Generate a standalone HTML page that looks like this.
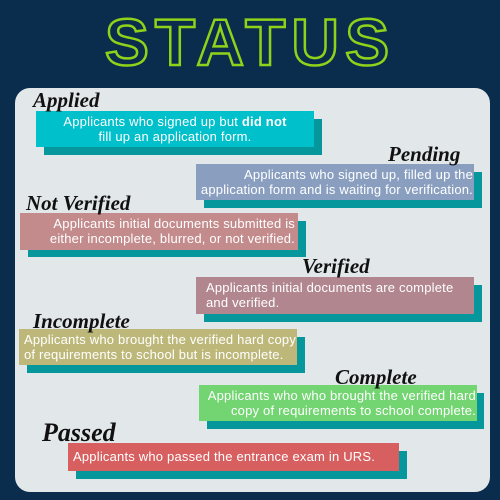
<!DOCTYPE html>
<html><head><style>
body{margin:0;width:500px;height:500px;background:#0b2d4d;position:relative;overflow:hidden;font-family:"Liberation Sans",sans-serif}
.t{position:absolute;left:0;width:500px;top:4px;text-align:center;font:900 66px "Liberation Sans",sans-serif;color:transparent;-webkit-text-stroke:2.5px #8fd21a;letter-spacing:6px}
.panel{position:absolute;left:15px;top:88px;width:475px;height:404px;background:#e2e7ea;border-radius:15px}
.s{position:absolute;background:#05979b}
.b{position:absolute;color:#fff;font-size:13px;letter-spacing:0.2px;line-height:15px;box-sizing:border-box;padding-top:3px;white-space:nowrap}
.l{position:absolute;font:italic bold 21px "Liberation Serif",serif;color:#111;white-space:nowrap}
</style></head><body>
<div class="t">STATUS</div>
<div class="panel"></div>

<div class="s" style="left:44px;top:119px;width:278px;height:36px"></div>
<div class="b" style="left:36px;top:111px;width:278px;height:36px;background:#00c0cc;text-align:center">Applicants who signed up but <b>did not</b><br>fill up an application form.</div>
<div class="l" style="left:33px;top:88px">Applied</div>

<div class="s" style="left:204px;top:172px;width:278px;height:36px"></div>
<div class="b" style="left:196px;top:164px;width:278px;height:36px;background:#8a9fc0;text-align:right;padding-right:1px">Applicants who signed up, filled up the<br>application form and is waiting for verification.</div>
<div class="l" style="left:388px;top:142px">Pending</div>

<div class="s" style="left:28px;top:221px;width:278px;height:36px"></div>
<div class="b" style="left:20px;top:213px;width:278px;height:37px;background:#c48b8c;text-align:right;padding-right:3px">Applicants initial documents submitted is<br>either incomplete, blurred, or not verified.</div>
<div class="l" style="left:26px;top:191px">Not Verified</div>

<div class="s" style="left:204px;top:285px;width:278px;height:37px"></div>
<div class="b" style="left:196px;top:277px;width:278px;height:37px;background:#b2868f;padding-left:10px">Applicants initial documents are complete<br>and verified.</div>
<div class="l" style="left:302px;top:254px">Verified</div>

<div class="s" style="left:27px;top:337px;width:278px;height:36px"></div>
<div class="b" style="left:19px;top:329px;width:278px;height:36px;background:#bdb87a;padding-left:5px">Applicants who brought the verified hard copy<br>of requirements to school but is incomplete.</div>
<div class="l" style="left:33px;top:309px">Incomplete</div>

<div class="s" style="left:207px;top:393px;width:277px;height:36px"></div>
<div class="b" style="left:199px;top:385px;width:278px;height:36px;background:#72d572;text-align:right;padding-right:1px">Applicants who who brought the verified hard<br>copy of requirements to school complete.</div>
<div class="l" style="left:335px;top:365px">Complete</div>

<div class="s" style="left:76px;top:451px;width:331px;height:28px"></div>
<div class="b" style="left:68px;top:443px;width:331px;height:28px;background:#d75f5f;padding-left:5px;padding-top:6px;font-size:13px">Applicants who passed the entrance exam in URS.</div>
<div class="l" style="left:42px;top:418px;font-size:26px">Passed</div>
</body></html>
